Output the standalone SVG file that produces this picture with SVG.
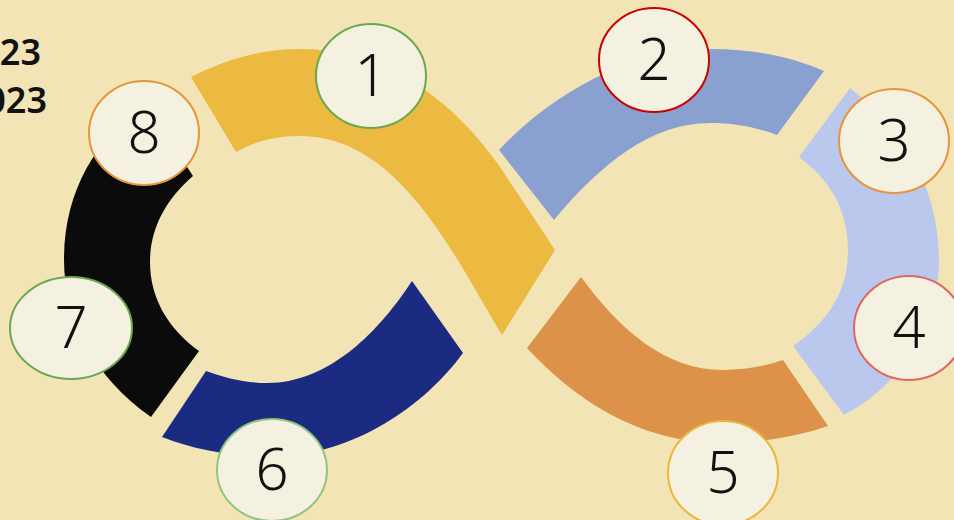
<svg xmlns="http://www.w3.org/2000/svg" width="954" height="520" viewBox="0 0 954 520">
<style>
.node ellipse{fill:#F5F1E1;stroke-width:2}
.num{font-family:"Noto Sans","Open Sans","DejaVu Sans",sans-serif;font-size:58px;font-weight:300;fill:#111;text-anchor:middle}
.yr{font-family:"Noto Sans","Open Sans","DejaVu Sans",sans-serif;font-size:36px;font-weight:600;fill:#111;text-anchor:end}
</style>
<rect width="954" height="520" fill="#F2E4B5"/>
<text class="yr" x="41" y="65">23</text>
<text class="yr" x="47" y="113">023</text>
<g id="bands">
<path id="band1" fill="#ECBA41" d="M191,77 C225,60 260,49 300,49 C380,49 450,95 500,167 L555,250 L502,335 C455,258 400,136 300,136 C270,136 250,144 236,152 Z"/>
<path id="band2" fill="#8AA0D0" d="M499,150 C560,85 640,49 713,49 C755,49 795,58 824,71 L777,135 C755,127 735,123 710,123 C650,123 600,165 554,220 Z"/>
<path id="band3" fill="#BAC8EE" d="M850,88 C905,130 939,190 939,260 C939,330 900,385 844,415 L793,346 C830,320 848,290 848,250 C848,210 830,180 799,157 Z"/>
<path id="band5" fill="#DD9249" d="M581,277 C620,330 665,370 723,370 C745,370 765,366 783,360 L828,426 C795,437 760,443 723,443 C640,443 575,400 527,348 Z"/>
<path id="band6" fill="#1B2B82" d="M412,281 C380,330 330,383 267,383 C245,383 225,378 206,371 L162,437 C195,450 235,457 272,457 C355,455 425,405 463,353 Z"/>
<path id="band7" fill="#0C0B0B" d="M145,103 L193,176 C165,200 150,230 150,262 C150,300 170,330 199,351 L151,417 C95,378 64,320 64,260 C64,192 95,140 145,103 Z"/>
</g>
<g id="n1" class="node"><ellipse cx="371" cy="76" rx="55" ry="52" stroke="#6AA84F"/><text class="num" x="371" y="96">1</text></g>
<g id="n2" class="node"><ellipse cx="654" cy="60" rx="55" ry="52" stroke="#CC0000"/><text class="num" x="654" y="80">2</text></g>
<g id="n3" class="node"><ellipse cx="894" cy="141" rx="55" ry="52" stroke="#E8943A"/><text class="num" x="894" y="161">3</text></g>
<g id="n4" class="node"><ellipse cx="909" cy="328" rx="55" ry="52" stroke="#E06666"/><text class="num" x="909" y="348">4</text></g>
<g id="n5" class="node"><ellipse cx="723" cy="473" rx="55" ry="52" stroke="#EDB53A"/><text class="num" x="723" y="493">5</text></g>
<g id="n6" class="node"><ellipse cx="272" cy="470" rx="55" ry="51" stroke="#93C47D"/><text class="num" x="272" y="490">6</text></g>
<g id="n7" class="node"><ellipse cx="71" cy="328" rx="61" ry="51" stroke="#6AA84F"/><text class="num" x="71" y="348">7</text></g>
<g id="n8" class="node"><ellipse cx="144" cy="133" rx="55" ry="52" stroke="#E8943A"/><text class="num" x="144" y="153">8</text></g>
</svg>
